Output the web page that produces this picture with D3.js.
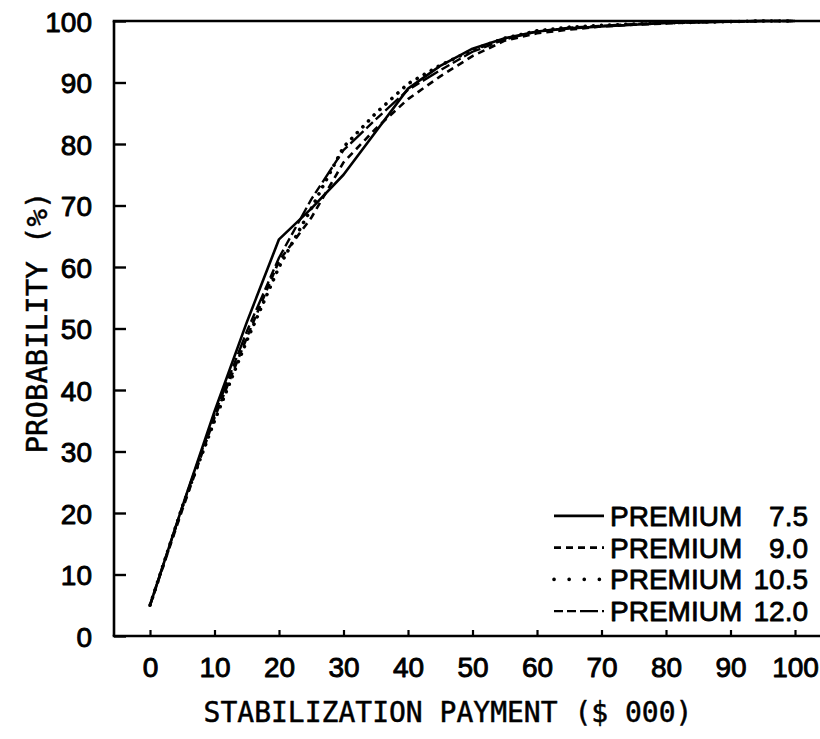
<!DOCTYPE html>
<html>
<head>
<meta charset="utf-8">
<script src="https://cdn.jsdelivr.net/npm/d3@7"></script>
<style>
  html, body { margin: 0; padding: 0; background: #fff; }
  svg { display: block; }
</style>
</head>
<body>
<svg id="chart" width="820" height="739"></svg>
<script>
// Stabilization payment ($ 000) at which each cumulative probability is read
const payments = [0, 5, 10, 15, 20, 25, 30, 35, 40, 45, 50, 55, 60, 65, 70, 75, 80, 85, 90, 95, 100];

// Cumulative probability (%) for each premium level
const premium75  = [5, 21, 36.5, 51, 64.5, 69.5, 75, 82, 89, 92.7, 95.5, 97.2, 98.3, 98.8, 99.1, 99.4, 99.7, 99.8, 99.9, 100, 100];
const premium90  = [5, 20.5, 35.5, 48.5, 61, 68, 77, 82.5, 87.3, 91, 94.3, 96.8, 98, 98.6, 99.1, 99.4, 99.6, 99.8, 99.9, 100, 100];
const premium105 = [5, 21, 35, 48, 60, 69.5, 79.5, 85, 89.8, 92.8, 95.3, 97.2, 98.4, 99, 99.3, 99.5, 99.7, 99.8, 99.9, 100, 100];
const premium120 = [5, 21, 36, 49.5, 61.5, 71, 79, 84, 88.8, 92, 95, 97, 98.3, 98.9, 99.2, 99.5, 99.7, 99.8, 99.9, 100, 100];

const seriesNames = ["PREMIUM", "PREMIUM", "PREMIUM", "PREMIUM"];
const seriesLabels = ["7.5", "9.0", "10.5", "12.0"];
const xTicks = [0, 10, 20, 30, 40, 50, 60, 70, 80, 90, 100];
const yTicks = [0, 10, 20, 30, 40, 50, 60, 70, 80, 90, 100];

const xTitle = "STABILIZATION PAYMENT ($ 000)";
const yTitle = "PROBABILITY (%)";

// Line styles for each premium level
const styles = [
  { dash: null,            cap: "butt",  width: 2.6 },
  { dash: "7,5",           cap: "butt",  width: 2.6 },
  { dash: "0.1,8",         cap: "round", width: 3.6 },
  { dash: "9,4,9,4,18,4",  cap: "butt",  width: 2.4 }
];

const svg = d3.select("#chart");
const frame = { left: 114, top: 21, bottom: 636, right: 830 };

const x = d3.scaleLinear().domain([0, 100]).range([150, 795]);
const y = d3.scaleLinear().domain([0, 100]).range([frame.bottom, frame.top]);

const tickFont = "'Liberation Sans', Arial, sans-serif";
const titleFont = "'DejaVu Sans Mono', monospace";

// Slightly heavier glyphs, like a pen-plotted label
function inked(sel, w) {
  sel.attr("fill", "#000").attr("stroke", "#000").attr("stroke-width", w)
     .attr("stroke-linejoin", "round");
}

// Frame: left, top and bottom edges
const frameG = svg.append("g")
  .attr("fill", "none").attr("stroke", "#000").attr("stroke-width", 2.6);
frameG.append("line")
  .attr("x1", frame.left).attr("x2", frame.left)
  .attr("y1", frame.top).attr("y2", frame.bottom);
frameG.append("line")
  .attr("x1", frame.left - 1.3).attr("x2", frame.right)
  .attr("y1", frame.top).attr("y2", frame.top);
frameG.append("line")
  .attr("x1", frame.left - 1.3).attr("x2", frame.right)
  .attr("y1", frame.bottom).attr("y2", frame.bottom);

// X axis
const xAxis = d3.axisBottom(x)
  .tickValues(xTicks)
  .tickFormat(d3.format("d"))
  .tickSize(-6)
  .tickSizeOuter(0)
  .tickPadding(21);
const gx = svg.append("g")
  .attr("transform", `translate(0,${frame.bottom})`)
  .call(xAxis);
gx.select(".domain").remove();
gx.selectAll(".tick line").attr("stroke", "#000").attr("stroke-width", 2.2);
gx.selectAll(".tick text")
  .style("font-family", tickFont)
  .style("font-size", "28px")
  .call(inked, 0.9);

// Y axis
const yAxis = d3.axisLeft(y)
  .tickValues(yTicks)
  .tickFormat(d3.format("d"))
  .tickSize(-12)
  .tickSizeOuter(0)
  .tickPadding(22);
const gy = svg.append("g")
  .attr("transform", `translate(${frame.left},0)`)
  .call(yAxis);
gy.select(".domain").remove();
gy.selectAll(".tick line").attr("stroke", "#000").attr("stroke-width", 2.4);
gy.selectAll(".tick text")
  .attr("dy", "0.36em")
  .style("font-family", tickFont)
  .style("font-size", "28px")
  .call(inked, 0.9);

// Axis titles
svg.append("text")
  .attr("x", 448).attr("y", 722)
  .attr("text-anchor", "middle")
  .style("font-family", titleFont)
  .style("font-size", "28px")
  .call(inked, 0.5)
  .text(xTitle);

svg.append("text")
  .attr("transform", `translate(47,${y(50) - 6})rotate(-90)`)
  .attr("text-anchor", "middle")
  .style("font-family", titleFont)
  .style("font-size", "29px")
  .call(inked, 0.5)
  .text(yTitle);

// Curves
const seriesValues = [premium75, premium90, premium105, premium120];
const line = d3.line()
  .x((d, i) => x(payments[i]))
  .y(d => y(d));

const curves = svg.append("g").attr("fill", "none").attr("stroke", "#000");
seriesValues.forEach((vals, k) => {
  curves.append("path")
    .datum(vals)
    .attr("d", line)
    .attr("stroke-width", styles[k].width)
    .attr("stroke-linecap", styles[k].cap)
    .attr("stroke-linejoin", "round")
    .attr("stroke-dasharray", styles[k].dash);
});

// Legend
const legendY = d3.scaleBand().domain(d3.range(4)).range([500, 627]);
const legend = svg.append("g");
seriesLabels.forEach((lab, k) => {
  const cy = legendY(k) + legendY.bandwidth() / 2;
  legend.append("line")
    .attr("x1", 554).attr("x2", 604)
    .attr("y1", cy).attr("y2", cy)
    .attr("stroke", "#000")
    .attr("stroke-width", styles[k].width)
    .attr("stroke-linecap", styles[k].cap)
    .attr("stroke-dasharray", k === 2 ? "0.1,15" : styles[k].dash);
  legend.append("text")
    .attr("x", 610).attr("y", cy + 10)
    .style("font-family", tickFont)
    .style("font-size", "28px")
    .call(inked, 0.8)
    .text(seriesNames[k]);
  legend.append("text")
    .attr("x", 808).attr("y", cy + 10)
    .attr("text-anchor", "end")
    .style("font-family", tickFont)
    .style("font-size", "28px")
    .call(inked, 0.8)
    .text(lab);
});
</script>
</body>
</html>
